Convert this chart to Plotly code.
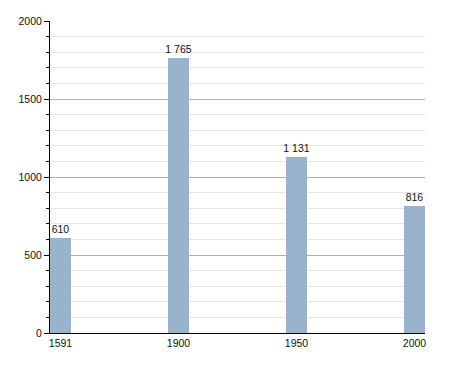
import plotly.graph_objects as go

years = ["1591", "1900", "1950", "2000"]
population = [610, 1765, 1131, 816]
y_ticks = [0, 500, 1000, 1500, 2000]

xpos = list(range(len(years)))

fig = go.Figure()
fig.add_trace(go.Bar(
    x=xpos, y=population,
    width=0.175,
    marker=dict(color="#99b3cd", line=dict(width=0)),
    texttemplate="%{y:,}",
    textposition="outside",
    textangle=0,
    constraintext="none",
    textfont=dict(family="Liberation Sans, Arial, sans-serif", size=10.5, color="#111"),
    cliponaxis=False,
))

fig.update_layout(
    width=455, height=373,
    margin=dict(l=50, r=30, t=21, b=40),
    paper_bgcolor="white", plot_bgcolor="white",
    separators=". ",
    showlegend=False,
    font=dict(family="Liberation Sans, Arial, sans-serif", size=10.5, color="#111"),
    xaxis=dict(
        range=[-0.089, 3.089],
        tickvals=xpos, ticktext=years,
        showgrid=False, zeroline=False,
        showline=True, linecolor="#000", linewidth=1,
        ticks="", ticklen=0,
        tickfont=dict(size=10.5),
    ),
    yaxis=dict(
        range=[0, 2000],
        tickvals=y_ticks,
        tickformat="d",
        showgrid=True, gridcolor="#b0b0b0", gridwidth=1,
        zeroline=False,
        showline=True, linecolor="#000", linewidth=1,
        ticks="outside", ticklen=5, tickcolor="#000",
        tickfont=dict(size=10.5),
        minor=dict(dtick=100, showgrid=True, gridcolor="#e6e6e6",
                   ticks="outside", ticklen=3, tickcolor="#000"),
    ),
    bargap=0,
)

fig.write_html("out.html")
